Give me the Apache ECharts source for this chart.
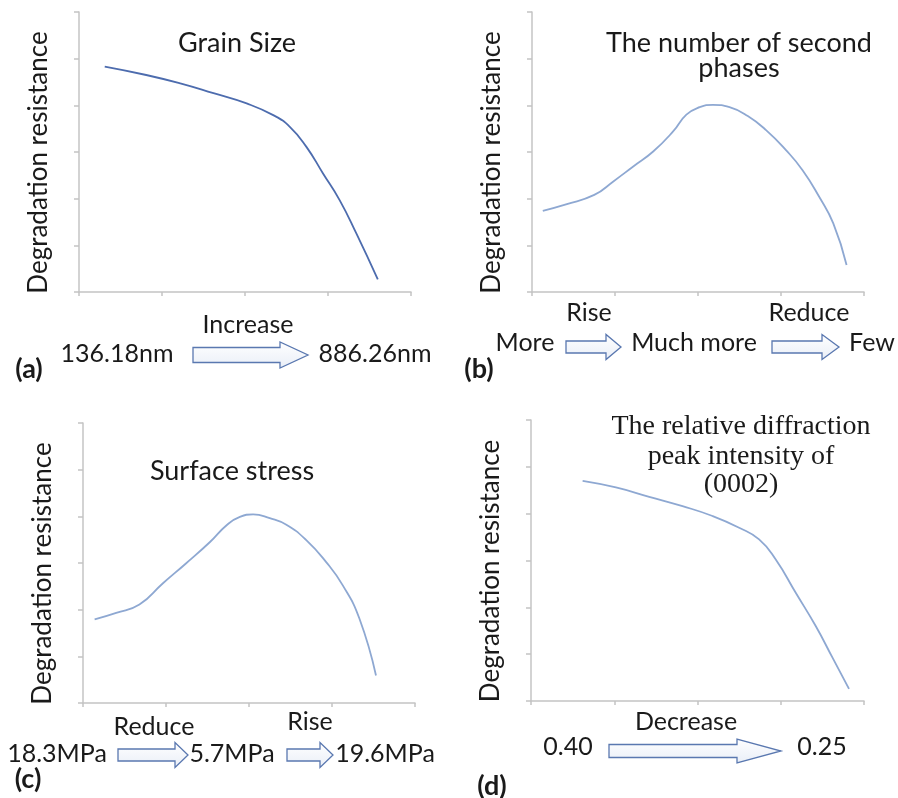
<!DOCTYPE html>
<html>
<head>
<meta charset="utf-8">
<script src="https://cdn.jsdelivr.net/npm/echarts@6/dist/echarts.min.js"></script>
<style>
  html, body { margin: 0; padding: 0; background: #fff; }
  #chart { width: 898px; height: 798px; }
</style>
</head>
<body>
<div id="chart"></div>
<script>
// curve data (x: 0..4 along axis, y: 0..6 along axis)
const grainX = [0.31, 0.81, 1.22, 1.62, 2.02, 2.34, 2.54, 2.74, 2.94, 3.14, 3.34, 3.60];
const grainY = [4.83, 4.65, 4.47, 4.26, 4.04, 3.79, 3.54, 3.11, 2.54, 1.97, 1.26, 0.27];

const phaseX = [0.13, 0.41, 0.75, 0.98, 1.22, 1.46, 1.70, 1.86, 2.02, 2.18, 2.38, 2.60, 2.82, 3.06, 3.26, 3.46, 3.63, 3.79];
const phaseY = [1.74, 1.88, 2.08, 2.37, 2.69, 3.01, 3.44, 3.80, 3.96, 4.01, 3.96, 3.77, 3.47, 3.04, 2.61, 2.04, 1.47, 0.58];

const stressX = [0.14, 0.40, 0.68, 0.96, 1.24, 1.53, 1.73, 1.89, 2.05, 2.25, 2.45, 2.69, 2.93, 3.13, 3.33, 3.53];
const stressY = [1.79, 1.93, 2.11, 2.56, 2.99, 3.45, 3.81, 3.99, 4.04, 3.96, 3.82, 3.49, 3.02, 2.52, 1.81, 0.59];

const peakX = [0.62, 1.02, 1.42, 1.82, 2.18, 2.50, 2.74, 2.94, 3.18, 3.42, 3.62, 3.82];
const peakY = [4.70, 4.56, 4.36, 4.16, 3.95, 3.70, 3.45, 3.02, 2.31, 1.60, 0.93, 0.26];

const panelTitles = [
  ["Grain Size"],
  ["The number of second", "phases"],
  ["Surface stress"],
  ["The relative diffraction", "peak intensity of", "(0002)"],
];
const panelTags = ["(a)", "(b)", "(c)", "(d)"];
const yName = "Degradation resistance";

const chart = echarts.init(document.getElementById("chart"));

const sans = "Lato";
const serif = "Liberation Serif";
const axisColor = "#c4c4c4";

const grids = [
  { left: 79, top: 12, width: 332, height: 280 },
  { left: 532, top: 12, width: 332, height: 280 },
  { left: 83, top: 423, width: 332, height: 280 },
  { left: 531, top: 420, width: 333, height: 281 },
];

function pairs(xs, ys) {
  return xs.map((x, i) => [x, ys[i]]);
}

const xAxes = grids.map((g, i) => ({
  gridIndex: i,
  type: "value",
  min: 0,
  max: 4,
  interval: 1,
  axisLine: { show: true, lineStyle: { color: axisColor, width: 1.5 } },
  axisTick: { show: true, length: 4, lineStyle: { color: axisColor, width: 1.5 } },
  axisLabel: { show: false },
  splitLine: { show: false },
}));

const yAxes = grids.map((g, i) => ({
  gridIndex: i,
  type: "value",
  min: 0,
  max: 6,
  interval: 1,
  name: yName,
  nameLocation: "middle",
  nameRotate: 90,
  nameGap: 27,
  nameTextStyle: { color: "#1a1a1a", fontSize: 26, fontFamily: sans, padding: [0, 21, 0, 0] },
  axisLine: { show: true, lineStyle: { color: axisColor, width: 1.5 } },
  axisTick: { show: true, length: 5, lineStyle: { color: axisColor, width: 1.5 } },
  axisLabel: { show: false },
  splitLine: { show: false },
}));

const curveData = [
  pairs(grainX, grainY),
  pairs(phaseX, phaseY),
  pairs(stressX, stressY),
  pairs(peakX, peakY),
];
const curveColors = ["#4d6cae", "#8ea8d2", "#8ea8d2", "#8ea8d2"];

const series = curveData.map((d, i) => ({
  type: "line",
  xAxisIndex: i,
  yAxisIndex: i,
  data: d,
  smooth: 0.5,
  showSymbol: false,
  lineStyle: { color: curveColors[i], width: 1.8 },
  silent: true,
}));

// text helper
function txt(x, y, s, opt) {
  opt = opt || {};
  return {
    type: "text",
    x: x,
    y: y,
    style: {
      text: s,
      fill: "#1a1a1a",
      font: (opt.bold ? "bold " : "") + (opt.size || 25) + "px " + (opt.family || sans),
      textAlign: opt.align || "center",
      textVerticalAlign: "middle",
    },
  };
}

// block arrow outline
function arrow(x1, x2, y, headLen, bodyHalf, headHalf) {
  const hx = x2 - headLen;
  return {
    type: "polygon",
    shape: {
      points: [
        [x1, y - bodyHalf], [hx, y - bodyHalf], [hx, y - headHalf], [x2, y],
        [hx, y + headHalf], [hx, y + bodyHalf], [x1, y + bodyHalf],
      ],
    },
    style: {
      fill: new echarts.graphic.LinearGradient(0, 0, 0, 1, [
        { offset: 0, color: "#ffffff" },
        { offset: 1, color: "#e9eef7" },
      ]),
      stroke: "#5a78b0",
      lineWidth: 1.3,
    },
  };
}

const graphics = [
  // panel titles
  txt(237, 43, panelTitles[0][0], { size: 27 }),
  txt(739, 43, panelTitles[1][0], { size: 27 }),
  txt(739, 68, panelTitles[1][1], { size: 27 }),
  txt(232, 471, panelTitles[2][0], { size: 27 }),
  txt(741, 427, panelTitles[3][0], { size: 28, family: serif }),
  txt(741, 457, panelTitles[3][1], { size: 28, family: serif }),
  txt(741, 485, panelTitles[3][2], { size: 28, family: serif }),

  // (a)
  txt(248, 325, "Increase"),
  txt(117, 354, "136.18nm"),
  arrow(193, 308, 355, 28, 7.5, 13),
  txt(375, 354, "886.26nm"),
  txt(29, 369, panelTags[0], { bold: true, size: 27 }),

  // (b)
  txt(589, 313, "Rise"),
  txt(809, 313, "Reduce"),
  txt(525, 343, "More"),
  arrow(566, 621, 347, 15, 6, 12.5),
  txt(694, 343, "Much more"),
  arrow(772, 839, 347, 17, 6, 12.5),
  txt(872, 343, "Few"),
  txt(479, 369, panelTags[1], { bold: true, size: 27 }),

  // (c)
  txt(154, 727, "Reduce"),
  txt(310, 722, "Rise"),
  txt(57, 754, "18.3MPa"),
  arrow(118, 188, 755, 13, 6, 12.5),
  txt(232, 754, "5.7MPa"),
  arrow(287, 333, 755, 13, 6, 12.5),
  txt(385, 754, "19.6MPa"),
  txt(28, 779, panelTags[2], { bold: true, size: 27 }),

  // (d)
  txt(686, 722, "Decrease"),
  txt(568, 747, "0.40"),
  arrow(609, 781, 751, 44, 6.5, 12),
  txt(822, 747, "0.25"),
  txt(492, 786, panelTags[3], { bold: true, size: 27 }),
];

chart.setOption({
  animation: false,
  backgroundColor: "#ffffff",
  grid: grids,
  xAxis: xAxes,
  yAxis: yAxes,
  series: series,
  graphic: graphics,
});
</script>
</body>
</html>
